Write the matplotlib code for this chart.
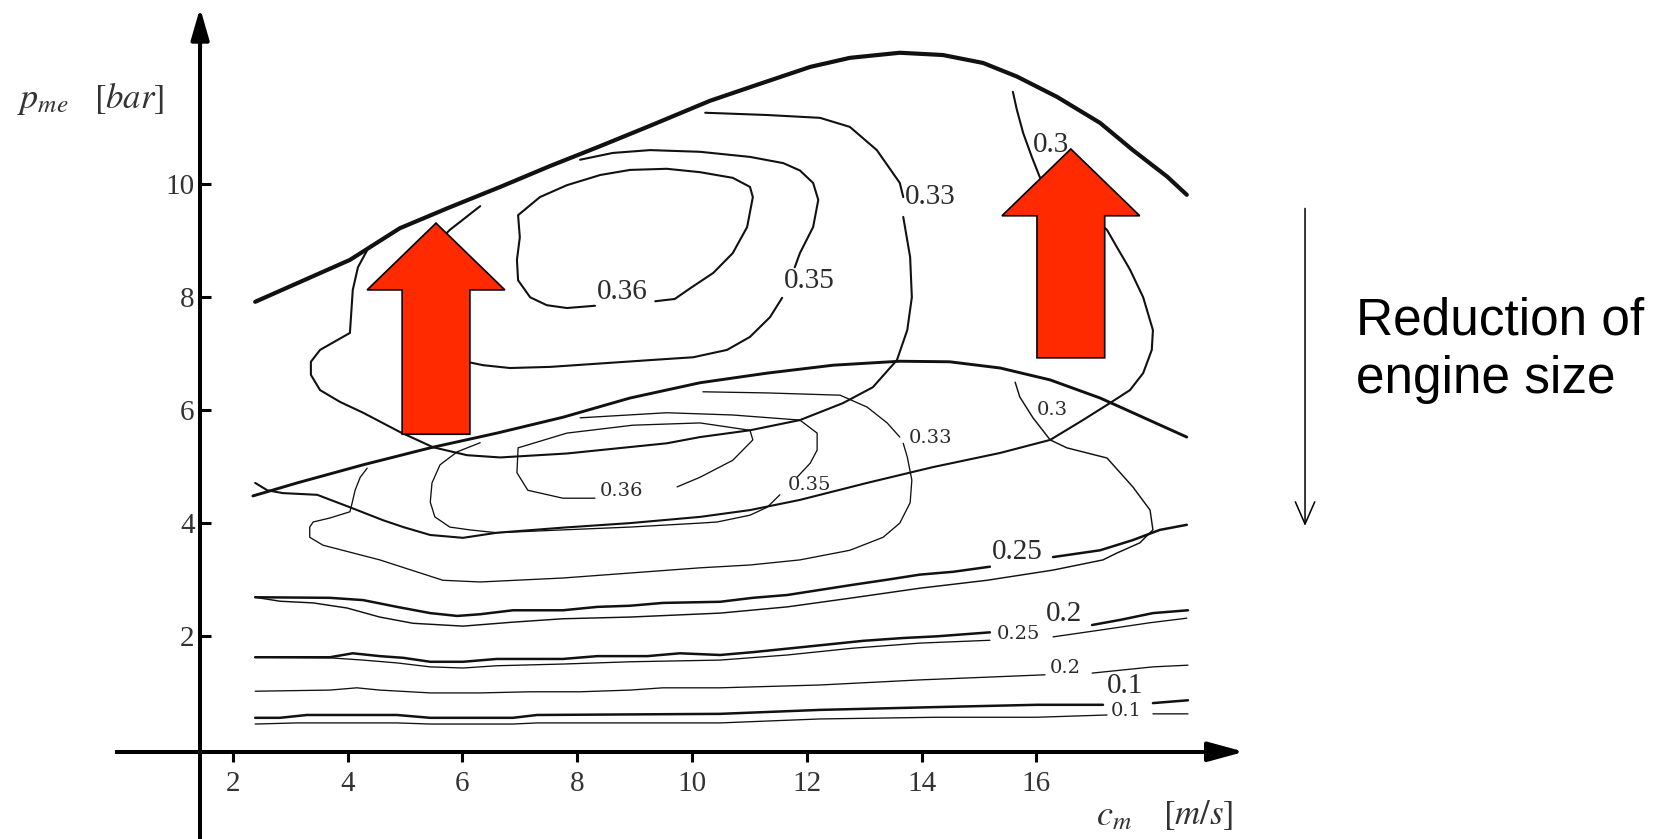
import numpy as np
import matplotlib
matplotlib.use('Agg')
import matplotlib.pyplot as plt
from matplotlib.patches import FancyArrow

plt.rcParams['font.family'] = ['Liberation Serif', 'DejaVu Serif']
plt.rcParams['mathtext.fontset'] = 'stix'

nan = np.nan

# full-load lines (c_m in m/s, p_me in bar)
fl_hi_c = [2.39, 3.17, 4.04, 4.91, 5.78, 6.66, 7.53, 8.40, 9.27, 10.31, 11.18, 12.06, 12.75,
           13.62, 14.37, 15.07, 15.66, 16.36, 17.11, 17.68, 18.28, 18.62]
fl_hi_p = [7.91, 8.26, 8.65, 9.21, 9.58, 9.94, 10.31, 10.66, 11.02, 11.46, 11.76, 12.06, 12.22,
           12.31, 12.27, 12.13, 11.89, 11.53, 11.07, 10.59, 10.12, 9.80]
fl_lo_c = [2.35, 3.12, 4.27, 5.44, 6.60, 7.75, 8.92, 10.14, 11.31, 12.46, 13.62, 14.49, 15.37,
           16.24, 17.11, 17.68, 18.62]
fl_lo_p = [4.48, 4.71, 5.03, 5.33, 5.59, 5.87, 6.21, 6.48, 6.65, 6.79, 6.86, 6.85, 6.74,
           6.53, 6.21, 5.95, 5.52]

# efficiency lines, large engine
hi36_c = [9.36, 9.70, 9.97, 10.37, 10.71, 10.96, 11.06, 11.01, 10.71, 10.14, 9.56, 8.92, 8.40,
          7.82, 7.35, 6.97, 7.00, 6.95, 6.97, 7.18, 7.47, 7.82, 8.31]
hi36_p = [7.92, 7.96, 8.15, 8.42, 8.77, 9.23, 9.76, 9.94, 10.10, 10.20, 10.26, 10.24, 10.15,
          9.97, 9.76, 9.44, 9.05, 8.65, 8.29, 7.99, 7.85, 7.80, 7.84]
hi35_c = [8.05, 8.62, 9.27, 10.14, 11.01, 11.59, 11.88, 12.11, 12.20, 12.11, 11.88, 11.79, nan,
          11.57, 11.36, 11.01, 10.61, 10.02, 9.27, 8.40, 7.53, 6.83, 6.36, 6.17, 5.61, 5.23,
          5.12, 5.35, 5.78, 6.31]
hi35_p = [10.42, 10.54, 10.59, 10.56, 10.47, 10.36, 10.23, 10.01, 9.71, 9.23, 8.77, 8.52, nan,
          7.98, 7.64, 7.29, 7.06, 6.93, 6.88, 6.82, 6.76, 6.74, 6.79, 6.83, 6.97, 7.41,
          8.12, 8.74, 9.18, 9.60]
hi33_c = [10.23, 11.31, 12.23, 12.75, 13.22, 13.62, 13.68, nan, 13.68, 13.80, 13.83, 13.75,
          13.57, 13.15, 12.63, 11.88, 11.01, 10.14, 9.56, 7.82, 6.66, 6.08, 5.49, 4.91, 4.27,
          3.87, 3.52, 3.36, 3.36, 3.52, 4.04, 4.09, 4.18, 4.34]
hi33_p = [11.25, 11.21, 11.16, 11.00, 10.59, 10.01, 9.76, nan, 9.41, 8.70, 7.99, 7.41,
          6.88, 6.40, 6.12, 5.82, 5.64, 5.52, 5.41, 5.23, 5.16, 5.20, 5.34, 5.61, 5.95,
          6.14, 6.35, 6.62, 6.85, 7.06, 7.36, 8.12, 8.52, 8.82]
hi30_c = [15.59, 15.66, 15.77, 15.92, 16.06, 16.41, 16.93, 17.23, 17.40, 17.63, 17.86, 18.03,
          18.01, 17.86, 17.63, 17.28, 16.81, 16.24, 15.37, 14.20, 13.05, 11.88, 11.01, 10.14,
          8.92, 7.75, 6.60, 6.01, 5.44, 4.97, 4.62, 4.04, 3.47, 2.87, 2.60, 2.39]
hi30_p = [11.62, 11.30, 10.89, 10.47, 10.11, 9.80, 9.44, 9.18, 8.88, 8.48, 7.99, 7.41,
          7.06, 6.65, 6.35, 6.12, 5.82, 5.47, 5.24, 4.99, 4.71, 4.41, 4.23, 4.11,
          4.00, 3.92, 3.83, 3.74, 3.79, 3.93, 4.05, 4.28, 4.50, 4.53, 4.58, 4.71]
hi25_c = [2.39, 3.69, 4.27, 4.86, 5.44, 5.91, 6.31, 6.88, 7.75, 8.35, 8.92, 9.49, 10.49, 11.06,
          11.66, 12.23, 12.80, 13.40, 13.97, 14.55, 15.19, nan, 16.29, 17.11, 17.68, 18.15, 18.62]
hi25_p = [2.69, 2.68, 2.64, 2.52, 2.41, 2.36, 2.39, 2.46, 2.46, 2.52, 2.54, 2.59, 2.61, 2.68,
          2.73, 2.82, 2.91, 3.00, 3.09, 3.14, 3.23, nan, 3.40, 3.52, 3.70, 3.88, 3.97]
hi20_c = [2.39, 3.69, 4.09, 4.56, 4.97, 5.44, 6.01, 6.60, 7.75, 8.35, 9.22, 9.79, 10.49, 11.06,
          11.93, 12.98, 13.68, 14.27, 15.19, nan, 16.97, 17.46, 18.03, 18.64]
hi20_p = [1.63, 1.63, 1.70, 1.65, 1.62, 1.55, 1.55, 1.60, 1.60, 1.65, 1.65, 1.70, 1.67, 1.72,
          1.81, 1.92, 1.97, 2.00, 2.07, nan, 2.20, 2.29, 2.41, 2.46]
hi10_c = [2.39, 2.82, 3.29, 4.86, 5.44, 6.88, 7.30, 10.49, 12.23, 14.27, 16.01, 17.16, nan,
          18.03, 18.64]
hi10_p = [0.56, 0.56, 0.61, 0.61, 0.56, 0.56, 0.61, 0.63, 0.70, 0.75, 0.79, 0.79, nan,
          0.82, 0.87]

# efficiency lines, downsized engine
lo36_c = [9.74, 10.14, 10.71, 11.06, 11.01, 10.14, 8.97, 7.82, 6.97, 6.95, 7.14, 7.75, 8.31]
lo36_p = [4.64, 4.81, 5.11, 5.47, 5.64, 5.77, 5.73, 5.59, 5.33, 4.89, 4.58, 4.44, 4.44]
lo35_c = [8.05, 9.56, 10.71, 11.88, 12.18, 12.18, 12.06, 11.83, nan, 11.53, 11.31, 11.01, 10.44,
          10.14, 8.92, 7.75, 6.60, 6.13, 5.78, 5.52, 5.44, 5.47, 5.61, 5.91, 6.31]
lo35_p = [5.86, 5.95, 5.91, 5.82, 5.59, 5.29, 5.06, 4.81, nan, 4.50, 4.28, 4.14, 4.02,
          4.00, 3.93, 3.88, 3.83, 3.88, 3.93, 4.11, 4.37, 4.71, 5.03, 5.26, 5.42]
lo33_c = [10.19, 11.31, 12.58, 13.05, 13.40, 13.62, nan, 13.68, 13.75, 13.83, 13.80, 13.62,
          13.33, 12.75, 11.88, 11.01, 10.14, 7.75, 6.31, 5.66, 4.56, 3.57, 3.34, 3.34, 3.40,
          3.69, 4.04, 4.08, 4.13, 4.22, 4.34]
lo33_p = [6.32, 6.30, 6.26, 6.05, 5.77, 5.52, nan, 5.41, 5.17, 4.76, 4.36, 4.00,
          3.75, 3.52, 3.35, 3.26, 3.21, 3.03, 2.96, 2.99, 3.35, 3.61, 3.75, 3.93, 4.02,
          4.09, 4.20, 4.36, 4.58, 4.81, 4.97]
lo30_c = [2.39, 2.82, 3.40, 3.99, 4.56, 5.14, 6.01, 6.88, 7.75, 8.92, 10.49, 11.66, 12.80,
          13.97, 15.14, 16.29, 17.16, 17.40, 17.80, 18.03, 17.98, 17.68, 17.23, 16.53, 16.24,
          15.94, 15.71, 15.63]
lo30_p = [2.69, 2.62, 2.59, 2.50, 2.34, 2.23, 2.18, 2.25, 2.31, 2.34, 2.41, 2.52, 2.68,
          2.85, 2.99, 3.17, 3.35, 3.47, 3.65, 3.88, 4.23, 4.64, 5.15, 5.33, 5.47,
          5.86, 6.23, 6.49]
lo25_c = [2.39, 3.69, 4.27, 4.86, 5.44, 6.01, 6.60, 7.75, 8.92, 10.49, 11.66, 12.80, 13.97,
          15.19, nan, 16.29, 17.11, 17.98, 18.62]
lo25_p = [1.63, 1.62, 1.58, 1.53, 1.46, 1.44, 1.48, 1.51, 1.55, 1.58, 1.67, 1.79, 1.88,
          1.93, nan, 1.99, 2.11, 2.24, 2.32]
lo20_c = [2.39, 3.69, 4.16, 4.56, 5.44, 6.31, 7.18, 8.05, 8.92, 9.49, 10.49, 12.23, 13.97,
          16.15, nan, 16.97, 18.03, 18.64]
lo20_p = [1.03, 1.05, 1.09, 1.05, 1.00, 1.00, 1.02, 1.02, 1.05, 1.09, 1.09, 1.14, 1.23,
          1.32, nan, 1.35, 1.46, 1.49]
lo10_c = [2.39, 3.12, 4.86, 5.44, 6.88, 7.30, 10.49, 12.23, 14.27, 16.01, 17.23, nan, 18.03, 18.64]
lo10_p = [0.45, 0.47, 0.47, 0.45, 0.45, 0.47, 0.47, 0.54, 0.57, 0.57, 0.61, nan, 0.63, 0.63]

# contour labels
eff_txt = ['0.36', '0.35', '0.33', '0.3', '0.25', '0.2', '0.1']
hi_lbl_c = [8.78, 12.04, 14.15, 16.25, 15.66, 16.48, 17.54]
hi_lbl_p = [8.08, 8.28, 9.76, 10.68, 3.49, 2.40, 1.13]
lo_lbl_c = [8.78, 12.04, 14.16, 16.27, 15.68, 16.50, 17.56]
lo_lbl_p = [4.57, 4.67, 5.50, 6.00, 2.04, 1.44, 0.68]

xticks = [2, 4, 6, 8, 10, 12, 14, 16]
yticks = [2, 4, 6, 8, 10]

fig = plt.figure(figsize=(16.74, 8.39), dpi=100)
ax = fig.add_axes([0, 0, 1, 1])
ax.set_xlim(-2.056, 27.108)
ax.set_ylim(-1.581, 13.242)

ink = '#111111'
lines = [
    (fl_hi_c, fl_hi_p, 3.0), (fl_lo_c, fl_lo_p, 2.1),
    (hi36_c, hi36_p, 1.5), (hi35_c, hi35_p, 1.5), (hi33_c, hi33_p, 1.5), (hi30_c, hi30_p, 1.5),
    (hi25_c, hi25_p, 1.8), (hi20_c, hi20_p, 1.8), (hi10_c, hi10_p, 1.8),
    (lo36_c, lo36_p, 0.95), (lo35_c, lo35_p, 0.95), (lo33_c, lo33_p, 0.95), (lo30_c, lo30_p, 1.05),
    (lo25_c, lo25_p, 0.95), (lo20_c, lo20_p, 0.95), (lo10_c, lo10_p, 0.95),
]
for c, p, w in lines:
    ax.plot(c, p, color=ink, lw=w, solid_capstyle='round', solid_joinstyle='round', zorder=2)

for t, c, p in zip(eff_txt, hi_lbl_c, hi_lbl_p):
    ax.text(c, p, t, fontsize=21, color='#2b2b2b', ha='center', va='center', zorder=3)
for t, c, p in zip(eff_txt, lo_lbl_c, lo_lbl_p):
    ax.text(c, p, t, fontsize=14, family='DejaVu Serif', color='#2b2b2b',
            ha='center', va='center', zorder=3)

# red block arrows: base centre, length
for bx, by, ln in [(5.54, 5.57, 3.73), (16.60, 6.92, 3.69)]:
    ax.add_patch(FancyArrow(bx, by, 0, ln, width=1.18, head_width=2.40, head_length=1.18,
                            length_includes_head=True, fc='#ff2a00', ec='black', lw=1.2,
                            zorder=4))

# axes drawn as crossing arrows
for s in ('top', 'right'):
    ax.spines[s].set_visible(False)
ax.spines['left'].set_position(('data', 1.43))
ax.spines['bottom'].set_position(('data', -0.04))
ax.spines['left'].set_bounds(-1.6, 12.6)
ax.spines['bottom'].set_bounds(-0.02, 19.1)
for s in ('left', 'bottom'):
    ax.spines[s].set_linewidth(2.9)
    ax.spines[s].set_zorder(5)
ax.annotate('', xy=(1.43, 13.1), xytext=(1.43, 12.4),
            arrowprops=dict(arrowstyle='-|>,head_length=1.9,head_width=0.55', lw=2.9,
                            color='black', mutation_scale=10, shrinkA=0, shrinkB=0))
ax.annotate('', xy=(19.62, -0.04), xytext=(19.0, -0.04),
            arrowprops=dict(arrowstyle='-|>,head_length=2.2,head_width=0.6', lw=2.9,
                            color='black', mutation_scale=10, shrinkA=0, shrinkB=0))

ax.set_xticks(xticks)
ax.set_xticklabels([str(t) for t in xticks])
ax.set_yticks(yticks)
ax.set_yticklabels([str(t) for t in yticks])
ax.tick_params(axis='x', direction='out', length=7, width=2.2, pad=7, labelsize=21,
               labelcolor='#333333')
ax.tick_params(axis='y', direction='in', length=8, width=2.2, pad=4, labelsize=21,
               labelcolor='#333333')

ax.text(0.010, 0.871, r'$p_{me}$', transform=ax.transAxes, fontsize=26, color='#333333',
        va='baseline', ha='left')
ax.text(0.056, 0.871, r'$[bar]$', transform=ax.transAxes, fontsize=25, color='#333333',
        va='baseline', ha='left')
ax.text(0.655, 0.016, r'$c_m$', transform=ax.transAxes, fontsize=26, color='#333333',
        va='baseline', ha='left')
ax.text(0.695, 0.018, r'$[m/s]$', transform=ax.transAxes, fontsize=25, color='#333333',
        va='baseline', ha='left')

# downsizing note
ax.annotate('', xy=(20.68, 3.95), xytext=(20.68, 9.56),
            arrowprops=dict(arrowstyle='->,head_length=1.6,head_width=0.7', lw=1.1,
                            color='black', mutation_scale=10, shrinkA=0, shrinkB=0))
ax.text(0.810, 0.601, 'Reduction of', transform=ax.transAxes, fontsize=37,
        family='Liberation Sans', va='baseline', ha='left')
ax.text(0.810, 0.531, 'engine size', transform=ax.transAxes, fontsize=37,
        family='Liberation Sans', va='baseline', ha='left')

fig.savefig('out.png', dpi=100)
